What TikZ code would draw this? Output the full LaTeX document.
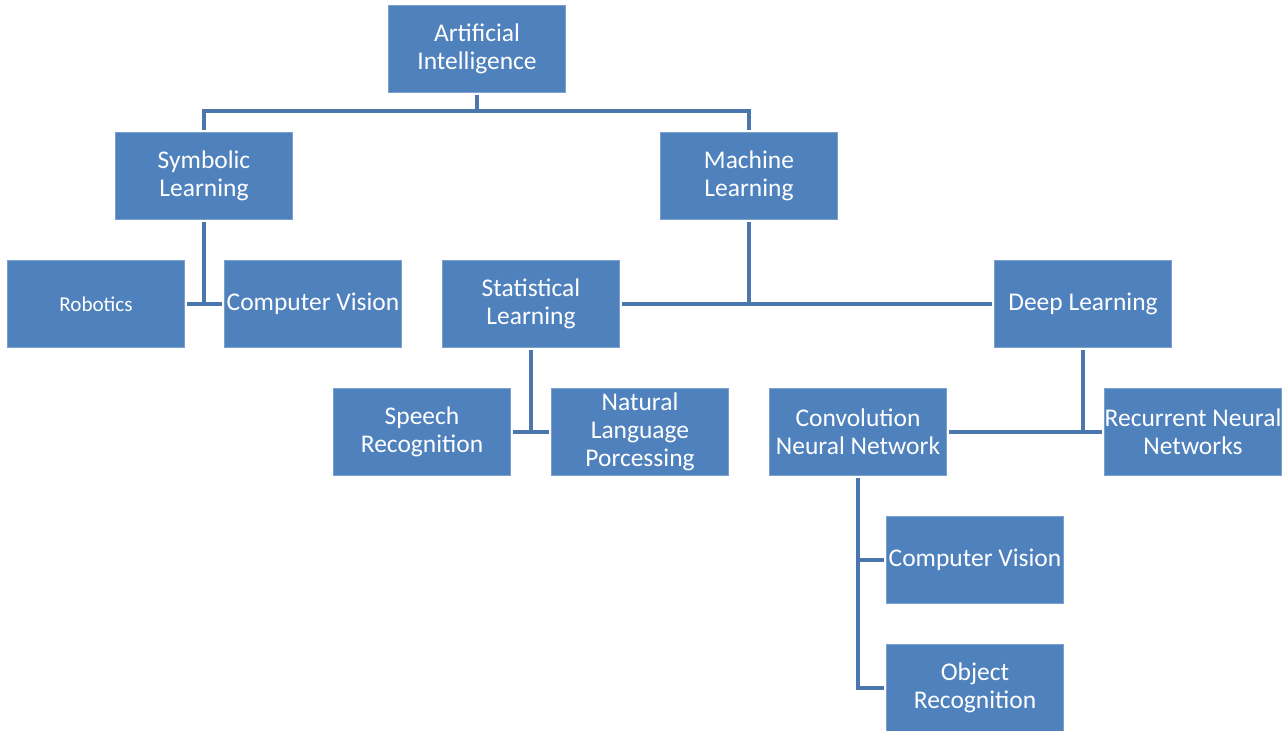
\documentclass[tikz,border=0pt]{standalone}
\usepackage{fontspec}
\setmainfont{Carlito}
\usetikzlibrary{positioning}

\definecolor{boxblue}{HTML}{4F81BD}
\definecolor{linkblue}{HTML}{4A76AD}

\begin{document}
\begin{tikzpicture}[
    x = 0.02cm, y = -0.02cm, % one unit per pixel
    box/.style = {
        draw = boxblue!75!white,
        line width = 0.4pt,
        fill = boxblue,
        text = white,
        minimum width = 3.54cm,
        minimum height = 1.74cm,
        inner sep = 0pt,
        outer sep = 0.06cm, % keep the links off the boxes
        align = center,
        font = \fontsize{14.5}{16}\selectfont
    },
    link/.style = {
        draw = linkblue,
        line width = 1.8pt
    }
    ]

    \useasboundingbox (0,0) rectangle (1284,730);

    \node[box] (ai)     at (477,49)  {Artificial\\Intelligence};
    \node[box] (sym)    at (204,176) {Symbolic\\Learning};
    \node[box] (ml)     at (749,176) {Machine\\Learning};
    \node[box, font = \fontsize{12}{14}\selectfont] (robot) at (96,304) {Robotics};
    \node[box] (cvsym)  at (313,304) {Computer Vision};
    \node[box] (stat)   at (531,304) {Statistical\\Learning};
    \node[box] (deep)   at (1083,304) {Deep Learning};
    \node[box] (speech) at (422,432) {Speech\\Recognition};
    \node[box] (nlp)    at (640,432) {Natural\\Language\\Porcessing};
    \node[box] (cnn)    at (858,432) {Convolution\\Neural Network};
    \node[box] (rnn)    at (1193,432) {Recurrent Neural\\Networks};
    \node[box] (cvcnn)  at (975,560) {Computer Vision};
    \node[box] (objrec) at (975,688) {Object\\Recognition};

    \coordinate (aibus) at (477,111);

    % AI branches
    \draw[link] (ai) -- (aibus);
    \draw[link] (sym) |- (aibus) -| (ml);

    % symbolic learning
    \draw[link] (sym) -- (sym |- robot);
    \draw[link] (robot) -- (cvsym);

    % machine learning
    \draw[link] (ml) -- (ml |- stat);
    \draw[link] (stat) -- (deep);

    % statistical learning
    \draw[link] (stat) -- (stat |- speech);
    \draw[link] (speech) -- (nlp);

    % deep learning
    \draw[link] (deep) -- (deep |- cnn);
    \draw[link] (cnn) -- (rnn);

    % convolution neural network
    \draw[link] (cnn) |- (objrec);
    \draw[link] (cnn |- cvcnn) -- (cvcnn);
\end{tikzpicture}
\end{document}
